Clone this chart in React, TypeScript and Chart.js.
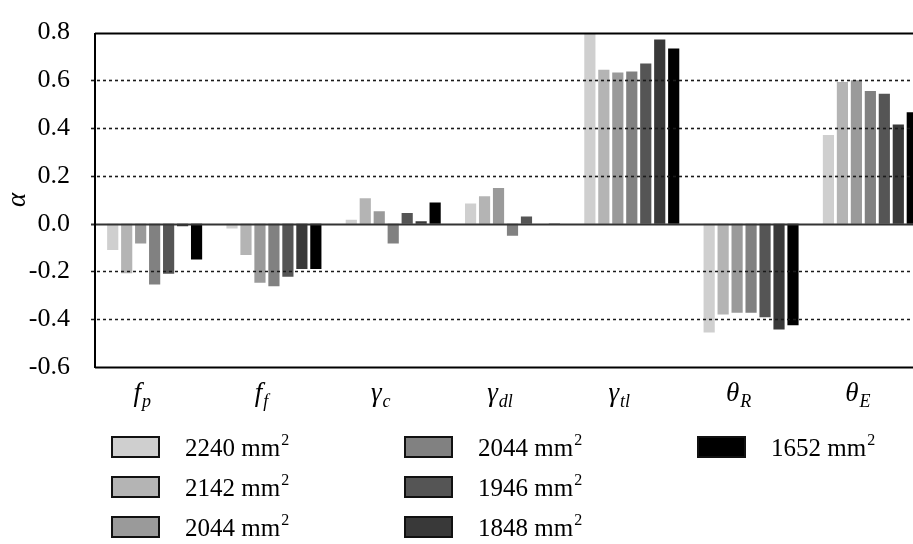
import React, { useEffect, useRef } from "react";
import { Chart, registerables } from "chart.js";

Chart.register(...registerables);

// ---- data ----
const categoryMain = ["f", "f", "γ", "γ", "γ", "θ", "θ"];
const categorySub = ["p", "f", "c", "dl", "tl", "R", "E"];
const seriesAreas = ["2240", "2142", "2044", "2044", "1946", "1848", "1652"];
const seriesColors = ["#cfcfcf", "#b4b4b4", "#9a9a9a", "#818181", "#555555", "#393939", "#000000"];

const s2240 = [-0.11, -0.02, 0.017, 0.085, 0.795, -0.456, 0.371];
const s2142 = [-0.207, -0.131, 0.107, 0.115, 0.644, -0.38, 0.593];
const s2044a = [-0.083, -0.247, 0.052, 0.149, 0.633, -0.373, 0.601];
const s2044b = [-0.255, -0.262, -0.083, -0.05, 0.637, -0.373, 0.555];
const s1946 = [-0.21, -0.222, 0.045, 0.03, 0.671, -0.392, 0.544];
const s1848 = [-0.011, -0.19, 0.01, 0.0, 0.771, -0.443, 0.415];
const s1652 = [-0.15, -0.19, 0.089, -0.005, 0.733, -0.425, 0.467];
const seriesValues = [s2240, s2142, s2044a, s2044b, s1946, s1848, s1652];

const yMin = -0.6;
const yMax = 0.8;
const yStep = 0.2;

const SERIF = '"Liberation Serif", "Times New Roman", Times, serif';

const decorPlugin = {
  id: "decor",
  afterDatasetsDraw(chart: any) {
    const { ctx, chartArea, scales } = chart;
    const { left, right } = chartArea;
    const y = scales.y;
    ctx.save();
    y.ticks.forEach((t: any) => {
      const v = t.value;
      const py = Math.round(y.getPixelForValue(v)) + 0.5;
      if (Math.abs(v) < 1e-9) {
        ctx.setLineDash([]);
        ctx.strokeStyle = "#333333";
        ctx.lineWidth = 2;
        ctx.beginPath();
        ctx.moveTo(left - 4, py);
        ctx.lineTo(right, py);
        ctx.stroke();
      } else if (Math.abs(v - yMax) < 1e-9 || Math.abs(v - yMin) < 1e-9) {
        ctx.setLineDash([]);
        ctx.strokeStyle = "#000000";
        ctx.lineWidth = 2;
        ctx.beginPath();
        ctx.moveTo(left, py);
        ctx.lineTo(right, py);
        ctx.stroke();
      } else {
        ctx.setLineDash([3, 3]);
        ctx.strokeStyle = "#1a1a1a";
        ctx.lineWidth = 1.6;
        ctx.beginPath();
        ctx.moveTo(left - 4, py);
        ctx.lineTo(right, py);
        ctx.stroke();
      }
    });
    ctx.setLineDash([]);
    ctx.strokeStyle = "#000000";
    ctx.lineWidth = 2;
    ctx.beginPath();
    ctx.moveTo(left, Math.round(y.getPixelForValue(yMax)));
    ctx.lineTo(left, Math.round(y.getPixelForValue(yMin)) + 1);
    ctx.stroke();
    ctx.restore();
  },
  afterDraw(chart: any) {
    const { ctx, scales } = chart;
    const x = scales.x;
    ctx.save();
    ctx.fillStyle = "#000000";
    ctx.textBaseline = "alphabetic";
    ctx.textAlign = "left";
    const mainFont = `italic 27px ${SERIF}`;
    const subFont = `italic 18px ${SERIF}`;
    categoryMain.forEach((m, i) => {
      const cx = x.getPixelForValue(i) - 13;
      ctx.font = mainFont;
      const wm = ctx.measureText(m).width;
      ctx.font = subFont;
      const ws = ctx.measureText(categorySub[i]).width;
      const start = cx - (wm + ws) / 2;
      ctx.font = mainFont;
      ctx.fillText(m, start, 401);
      ctx.font = subFont;
      ctx.fillText(categorySub[i], start + wm + 1, 407);
    });
    const colX = [112, 405, 698];
    const rowY = [437, 477, 517];
    chart.data.datasets.forEach((ds: any, i: number) => {
      const col = Math.floor(i / 3);
      const row = i % 3;
      const bx = colX[col];
      const by = rowY[row];
      ctx.fillStyle = ds.backgroundColor;
      ctx.fillRect(bx, by, 47, 20);
      ctx.strokeStyle = "#111111";
      ctx.lineWidth = 2;
      ctx.strokeRect(bx, by, 47, 20);
      ctx.fillStyle = "#000000";
      ctx.font = `25px ${SERIF}`;
      const txt = `${seriesAreas[i]} mm`;
      const tx = bx + 73;
      ctx.fillText(txt, tx, by + 19);
      const w = ctx.measureText(txt).width;
      ctx.font = `16px ${SERIF}`;
      ctx.fillText("2", tx + w + 1, by + 8);
    });
    ctx.restore();
  },
};

export default function App() {
  const ref = useRef<HTMLCanvasElement | null>(null);
  useEffect(() => {
    if (!ref.current) return;
    const chart = new Chart(ref.current, {
      type: "bar",
      data: {
        labels: categoryMain.map((m, i) => m + categorySub[i]),
        datasets: seriesValues.map((vals, i) => ({
          label: `${seriesAreas[i]} mm²`,
          data: vals,
          backgroundColor: seriesColors[i],
          borderWidth: 0,
          categoryPercentage: 0.82,
          barPercentage: 0.8,
        })),
      },
      options: {
        responsive: false,
        animation: false,
        layout: { padding: { top: 15, bottom: 177, left: 0, right: 10 } },
        plugins: { legend: { display: false }, tooltip: { enabled: false } },
        scales: {
          x: { display: false },
          y: {
            min: yMin,
            max: yMax,
            afterFit(scale: any) {
              scale.width = 95;
            },
            grid: { display: false },
            border: { display: false },
            ticks: {
              stepSize: yStep,
              padding: 17,
              color: "#000000",
              font: { family: SERIF, size: 26 },
              callback: (v: any) => Number(v).toFixed(1),
            },
            title: {
              display: true,
              text: "α",
              color: "#000000",
              font: { family: SERIF, size: 27, style: "italic" },
              padding: { top: 2, bottom: 0 },
            },
          },
        },
      },
      plugins: [decorPlugin],
    });
    return () => chart.destroy();
  }, []);
  return (
    <div
      style={{
        position: "fixed",
        left: 0,
        top: 0,
        width: 913,
        height: 544,
        overflow: "hidden",
        background: "#ffffff",
      }}
    >
      <canvas ref={ref} width={940} height={544} style={{ display: "block" }} />
    </div>
  );
}
